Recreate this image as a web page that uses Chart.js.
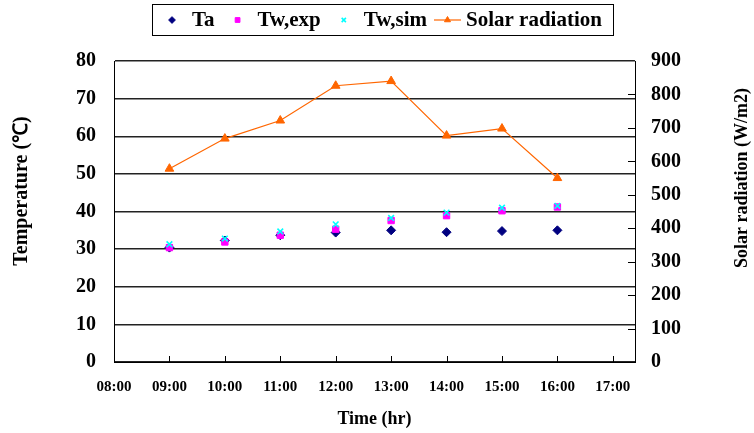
<!DOCTYPE html>
<html>
<head>
<meta charset="utf-8">
<script src="https://cdn.jsdelivr.net/npm/chart.js@4/dist/chart.umd.min.js"></script>
<style>
  html, body { margin: 0; padding: 0; background: #fff; }
</style>
</head>
<body>
<canvas id="chart" width="754" height="433"></canvas>
<script>
// Data
const hours = [9, 10, 11, 12, 13, 14, 15, 16];
const hourTicks = [8, 9, 10, 11, 12, 13, 14, 15, 16, 17];
const ta = [30.4, 32.3, 33.7, 34.4, 35.0, 34.5, 34.8, 35.0];
const twExp = [30.4, 31.9, 33.7, 35.3, 37.6, 38.9, 40.2, 41.2];
const twSim = [31.3, 32.8, 34.7, 36.6, 38.3, 39.7, 41.0, 41.5];
const solar = [578, 668, 722, 826, 840, 677, 698, 550];

const serif = '"Liberation Serif", "Times New Roman", serif';

function points(values) {
    return hours.map((h, i) => ({ x: h, y: values[i] }));
}

// Inward ticks, rotated axis titles and the boxed legend
const extras = {
    id: 'extras',
    afterDraw(chart) {
        const ctx = chart.ctx;
        const area = chart.chartArea;
        const x = chart.scales.x;
        const y2 = chart.scales.y2;

        ctx.save();
        ctx.strokeStyle = '#000';
        ctx.lineWidth = 1;
        ctx.beginPath();
        x.ticks.forEach(t => {
            if (t.value === x.min) return;
            const px = Math.round(x.getPixelForValue(t.value)) + 0.5;
            ctx.moveTo(px, area.bottom);
            ctx.lineTo(px, area.bottom - 6);
        });
        y2.ticks.forEach(t => {
            if (t.value === y2.min || t.value === y2.max) return;
            const py = Math.round(y2.getPixelForValue(t.value)) + 0.5;
            ctx.moveTo(area.right, py);
            ctx.lineTo(area.right - 7, py);
        });
        ctx.stroke();

        // Vertical axis titles, both reading bottom to top
        ctx.fillStyle = '#000';
        ctx.textAlign = 'center';
        ctx.textBaseline = 'middle';
        ctx.font = 'bold 20px ' + serif;
        ctx.translate(22, 191);
        ctx.rotate(-Math.PI / 2);
        ctx.fillText('Temperature (\u2103)', 0, 0);
        ctx.restore();

        ctx.save();
        ctx.fillStyle = '#000';
        ctx.textAlign = 'center';
        ctx.textBaseline = 'middle';
        ctx.font = 'bold 18px ' + serif;
        ctx.translate(742, 178);
        ctx.rotate(-Math.PI / 2);
        ctx.fillText('Solar radiation (W/m2)', 0, 0);
        ctx.restore();

        // Legend
        ctx.save();
        ctx.strokeStyle = '#000';
        ctx.lineWidth = 1;
        ctx.strokeRect(152.5, 4.5, 461, 31);
        ctx.font = 'bold 21px ' + serif;
        ctx.textBaseline = 'middle';
        ctx.textAlign = 'left';
        let cx = 168;
        const cy = 20;
        chart.data.datasets.forEach((ds, i) => {
            const isLine = ds.showLine !== false;
            const symW = isLine ? 27 : 8;
            if (i > 0) cx += isLine ? 7 : 19;
            const mid = cx + symW / 2;
            if (isLine) {
                ctx.strokeStyle = ds.borderColor;
                ctx.lineWidth = ds.borderWidth;
                ctx.beginPath();
                ctx.moveTo(cx, cy);
                ctx.lineTo(cx + symW, cy);
                ctx.stroke();
            }
            ctx.fillStyle = ds.pointBackgroundColor;
            ctx.strokeStyle = ds.pointBorderColor;
            ctx.lineWidth = ds.pointBorderWidth || 1;
            ctx.beginPath();
            Chart.helpers.drawPoint(ctx, {
                pointStyle: ds.pointStyle,
                radius: isLine ? 3.5 : ds.pointRadius * 0.75,
                borderWidth: ds.pointBorderWidth || 1,
                rotation: 0
            }, mid, cy);
            cx += symW + (isLine ? 5 : 16);
            ctx.fillStyle = '#000';
            ctx.fillText(ds.label, cx, cy + 1);
            cx += ctx.measureText(ds.label).width;
        });
        ctx.restore();
    }
};

new Chart(document.getElementById('chart'), {
    type: 'line',
    data: {
        datasets: [
            {
                label: 'Ta',
                data: points(ta),
                showLine: false,
                pointStyle: 'rectRot',
                pointRadius: 4.5,
                pointBackgroundColor: '#000080',
                pointBorderColor: '#000080',
                pointBorderWidth: 1,
                borderColor: '#000080',
                order: 4
            },
            {
                label: 'Tw,exp',
                data: points(twExp),
                showLine: false,
                pointStyle: 'rect',
                pointRadius: 4.5,
                pointBackgroundColor: '#ff00ff',
                pointBorderColor: '#ff00ff',
                pointBorderWidth: 1,
                borderColor: '#ff00ff',
                order: 3
            },
            {
                label: 'Tw,sim',
                data: points(twSim),
                showLine: false,
                pointStyle: 'crossRot',
                pointRadius: 4,
                pointBackgroundColor: '#00ffff',
                pointBorderColor: '#00ffff',
                pointBorderWidth: 1.6,
                borderColor: '#00ffff',
                order: 2
            },
            {
                label: 'Solar radiation',
                data: points(solar),
                yAxisID: 'y2',
                borderColor: '#ff6600',
                borderWidth: 1.2,
                pointStyle: 'triangle',
                pointRadius: 5,
                pointBackgroundColor: '#ff6600',
                pointBorderColor: '#ff6600',
                pointBorderWidth: 1,
                tension: 0,
                fill: false,
                order: 1
            }
        ]
    },
    options: {
        responsive: false,
        animation: false,
        devicePixelRatio: 1,
        layout: { padding: { top: 61, left: 0, right: 0, bottom: 0 } },
        plugins: {
            legend: { display: false },
            tooltip: { enabled: false }
        },
        scales: {
            x: {
                type: 'linear',
                min: 8,
                max: 17.4,
                afterBuildTicks: s => { s.ticks = hourTicks.map(v => ({ value: v })); },
                afterFit: s => { s.height = 71; },
                grid: { display: false, drawTicks: false },
                border: { display: true, color: '#000', width: 1 },
                ticks: {
                    autoSkip: false,
                    maxRotation: 0,
                    padding: 16,
                    color: '#000',
                    font: { family: serif, size: 15, weight: 'bold' },
                    callback: v => String(v).padStart(2, '0') + ':00'
                },
                title: {
                    display: true,
                    text: 'Time (hr)',
                    color: '#000',
                    font: { family: serif, size: 18, weight: 'bold' },
                    padding: { top: 0, bottom: 3 }
                }
            },
            y: {
                position: 'left',
                min: 0,
                max: 80,
                afterFit: s => { s.width = 114; },
                grid: { color: '#222', lineWidth: 1.5, drawTicks: false },
                border: { display: true, color: '#000', width: 1 },
                ticks: {
                    stepSize: 10,
                    padding: 18,
                    color: '#000',
                    font: { family: serif, size: 20, weight: 'bold' }
                }
            },
            y2: {
                position: 'right',
                min: 0,
                max: 900,
                afterFit: s => { s.width = 119; },
                grid: { drawOnChartArea: false, drawTicks: false },
                border: { display: true, color: '#000', width: 1 },
                ticks: {
                    stepSize: 100,
                    padding: 16,
                    color: '#000',
                    font: { family: serif, size: 20, weight: 'bold' }
                }
            }
        }
    },
    plugins: [extras]
});
</script>
</body>
</html>
